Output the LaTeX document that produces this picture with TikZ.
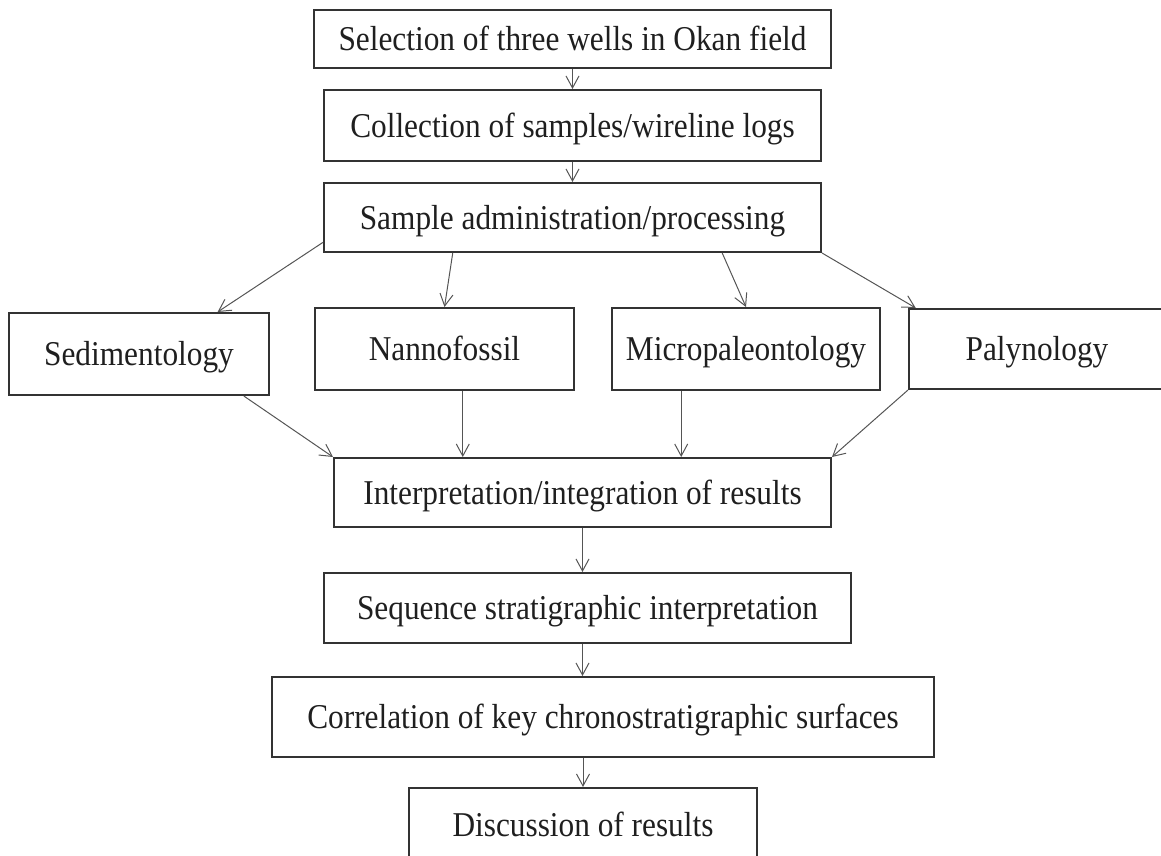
\documentclass[tikz,border=0pt]{standalone}
\usepackage{fontspec}
\setmainfont{Liberation Serif}[FakeStretch=0.9]
\usepackage{xcolor}
\usepackage{tikz}
\usetikzlibrary{arrows.meta, positioning, calc}

\definecolor{garisbox}{HTML}{333333}
\definecolor{garispanah}{HTML}{555555}
\definecolor{teks}{HTML}{1F1F1F}

\begin{document}
\begin{tikzpicture}[
    x=1pt, y=-1pt,
    kotak/.style={draw=garisbox, line width=2pt, inner sep=0pt, align=center,
                  text=teks, text height=23pt, text depth=0pt,
                  font=\fontsize{34.8}{40}\selectfont},
    panah/.style={-{Straight Barb[length=12pt, width=13pt]}, line width=1pt, draw=garispanah}
  ]
    \useasboundingbox (0,0) rectangle (1161,856);
    \clip (0,0) rectangle (1161,856);

    % alur atas
    \node[kotak, minimum width=517pt, minimum height=58pt] (sel) at (572.5,39)
      {Selection of three wells in Okan field};
    \node[kotak, minimum width=497pt, minimum height=71pt] (kol) at (572.5,125.5)
      {Collection of samples/wireline logs};
    \node[kotak, minimum width=497pt, minimum height=69pt] (sam) at (572.5,217.5)
      {Sample administration/processing};

    % empat analisis
    \node[kotak, minimum width=260pt, minimum height=82pt] (sed) at (139,354) {Sedimentology};
    \node[kotak, minimum width=259pt, minimum height=82pt] (nan) at (444.5,349) {Nannofossil};
    \node[kotak, minimum width=268pt, minimum height=82pt] (mik) at (746,349) {Micropaleontology};
    \node[kotak, minimum width=256pt, minimum height=80pt] (pal) at (1037,349) {Palynology};

    % alur bawah
    \node[kotak, minimum width=497pt, minimum height=69pt] (int) at (582.5,492.5)
      {Interpretation/integration of results};
    \node[kotak, minimum width=527pt, minimum height=70pt] (seq) at (587.5,608)
      {Sequence stratigraphic interpretation};
    \node[kotak, minimum width=662pt, minimum height=80pt] (kor) at (603,717)
      {Correlation of key chronostratigraphic surfaces};
    \node[kotak, minimum width=348pt, minimum height=74pt] (dis) at (583,825)
      {Discussion of results};

    \coordinate (n1) at ($(nan.south west)!0.57!(nan.south east)$);
    \coordinate (m1) at ($(mik.south west)!0.26!(mik.south east)$);

    \draw[panah] (sel) -- (kol);
    \draw[panah] (kol) -- (sam);
    \draw[panah] ($(sam.south west)!0.15!(sam.north west)$) -- ($(sed.north west)!0.8!(sed.north east)$);
    \draw[panah] ($(sam.south west)!0.26!(sam.south east)$) -- (nan.north);
    \draw[panah] ($(sam.south west)!0.8!(sam.south east)$) -- (mik.north);
    \draw[panah] (sam.south east) -- ($(pal.north west)!0.03!(pal.north east)$);
    \draw[panah] ($(sed.south west)!0.9!(sed.south east)$) -- (int.north west);
    \draw[panah] (n1) -- (n1 |- int.north);
    \draw[panah] (m1) -- (m1 |- int.north);
    \draw[panah] (pal.south west) -- (int.north east);
    \draw[panah] (int) -- (int |- seq.north);
    \draw[panah] (seq.south -| int.south) -- (kor.north -| int.south);
    \draw[panah] (kor.south -| dis.north) -- (dis);
\end{tikzpicture}
\end{document}
